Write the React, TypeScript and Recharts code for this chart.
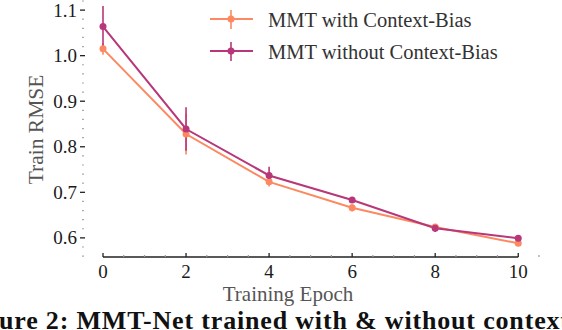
import {
  LineChart,
  Line,
  XAxis,
  YAxis,
  ErrorBar,
  Legend,
  ReferenceLine,
} from "recharts";

const epochs = [0, 2, 4, 6, 8, 10];
const withBias = [1.015, 0.828, 0.723, 0.666, 0.624, 0.588];
const withBiasErr = [0.013, 0.045, 0.01, 0.008, 0.006, 0.004];
const withoutBias = [1.064, 0.839, 0.737, 0.683, 0.621, 0.599];
const withoutBiasErr = [0.045, 0.048, 0.019, 0.004, 0.008, 0.004];

const xMajor = [0, 2, 4, 6, 8, 10];
const xTicks = [
  0, 0.5, 1, 1.5, 2, 2.5, 3, 3.5, 4, 4.5, 5, 5.5, 6, 6.5, 7, 7.5, 8, 8.5, 9,
  9.5, 10, 10.5,
];
const yMajor = [0.6, 0.7, 0.8, 0.9, 1.0, 1.1];
const yTicks = [
  0.56, 0.58, 0.6, 0.62, 0.64, 0.66, 0.68, 0.7, 0.72, 0.74, 0.76, 0.78, 0.8,
  0.82, 0.84, 0.86, 0.88, 0.9, 0.92, 0.94, 0.96, 0.98, 1.0, 1.02, 1.04, 1.06,
  1.08, 1.1, 1.12,
];

const ORANGE = "#fc8961";
const PURPLE = "#b73779";
const FONT = '"Liberation Serif", serif';

const data = epochs.map((epoch, i) => ({
  epoch,
  withBias: withBias[i],
  withBiasErr: withBiasErr[i],
  withoutBias: withoutBias[i],
  withoutBiasErr: withoutBiasErr[i],
}));

function XTick(props: any) {
  const { x, y, payload } = props;
  const v = payload.value;
  if (xMajor.includes(v)) {
    return (
      <g>
        <line x1={x} x2={x} y1={y} y2={y - 4} stroke="#222" strokeWidth={1.3} />
        <text
          x={x}
          y={y + 21}
          textAnchor="middle"
          fontFamily={FONT}
          fontSize={19}
          fill="#1a1a1a"
        >
          {v}
        </text>
      </g>
    );
  }
  return <line x1={x} x2={x} y1={y} y2={y - 2} stroke="#999" strokeWidth={1.2} />;
}

function YTick(props: any) {
  const { y, payload } = props;
  const v = payload.value;
  const major = yMajor.some((m) => Math.abs(m - v) < 1e-9);
  if (!major) {
    return <line x1={82} x2={84} y1={y} y2={y} stroke="#aaa" strokeWidth={1.2} />;
  }
  return (
    <g>
      <line x1={80} x2={85} y1={y} y2={y} stroke="#222" strokeWidth={1.3} />
      <text
        x={77}
        y={y + 6.5}
        textAnchor="end"
        fontFamily={FONT}
        fontSize={19}
        fill="#1a1a1a"
      >
        {v.toFixed(1)}
      </text>
    </g>
  );
}

function LegendBox(props: any) {
  const items = props.payload || [];
  return (
    <svg width={340} height={70} style={{ display: "block" }}>
      {items.map((it: any, i: number) => {
        const cy = 19 + i * 32;
        return (
          <g key={it.value}>
            <line x1={5} x2={48} y1={cy} y2={cy} stroke={it.color} strokeWidth={2} />
            <line x1={26} x2={26} y1={cy - 9} y2={cy + 10} stroke={it.color} strokeWidth={1.6} />
            <circle cx={26} cy={cy} r={3.5} fill={it.color} />
            <text x={63} y={cy + 8} fontFamily={FONT} fontSize={20.5} fill="#333">
              {it.value}
            </text>
          </g>
        );
      })}
    </svg>
  );
}

export default function App() {
  return (
    <div
      style={{
        position: "absolute",
        left: 0,
        top: 0,
        width: 562,
        height: 330,
        overflow: "hidden",
        background: "#fff",
      }}
    >
      <LineChart
        width={562}
        height={330}
        data={data}
        margin={{ top: 1, right: 23, bottom: 43, left: 0 }}
      >
        <XAxis
          dataKey="epoch"
          type="number"
          domain={[0, 10.5]}
          ticks={xTicks}
          interval={0}
          tick={<XTick />}
          tickLine={false}
          axisLine={false}
          tickSize={0}
          tickMargin={0}
          height={30}
        />
        <YAxis
          type="number"
          domain={[0.558, 1.12]}
          allowDataOverflow
          ticks={yTicks}
          interval={0}
          tick={<YTick />}
          tickLine={false}
          axisLine={false}
          tickSize={0}
          tickMargin={0}
          width={103}
        />
        <ReferenceLine
          segment={[
            { x: 0, y: 0.558 },
            { x: 10, y: 0.558 },
          ]}
          stroke="#222"
          strokeWidth={1.3}
          ifOverflow="visible"
        />
        <Legend
          layout="vertical"
          align="center"
          verticalAlign="middle"
          wrapperStyle={{ top: 0, left: 205, width: 340, height: 70 }}
          content={<LegendBox />}
        />
        <Line
          dataKey="withBias"
          name="MMT with Context-Bias"
          stroke={ORANGE}
          strokeWidth={2}
          dot={{ r: 3.5, fill: ORANGE, stroke: "none" }}
          activeDot={false}
          isAnimationActive={false}
        >
          <ErrorBar
            dataKey="withBiasErr"
            width={0}
            stroke={ORANGE}
            strokeWidth={1.6}
            direction="y"
            isAnimationActive={false}
          />
        </Line>
        <Line
          dataKey="withoutBias"
          name="MMT without Context-Bias"
          stroke={PURPLE}
          strokeWidth={2}
          dot={{ r: 3.5, fill: PURPLE, stroke: "none" }}
          activeDot={false}
          isAnimationActive={false}
        >
          <ErrorBar
            dataKey="withoutBiasErr"
            width={0}
            stroke={PURPLE}
            strokeWidth={1.6}
            direction="y"
            isAnimationActive={false}
          />
        </Line>
      </LineChart>
      <svg
        width={562}
        height={330}
        style={{ position: "absolute", left: 0, top: 0, pointerEvents: "none" }}
      >
        <text
          transform="translate(43,129.5) rotate(-90)"
          textAnchor="middle"
          fontFamily={FONT}
          fontSize={21.5}
          fill="#555"
        >
          Train RMSE
        </text>
        <text
          x={288}
          y={301}
          textAnchor="middle"
          fontFamily={FONT}
          fontSize={21}
          fill="#555"
        >
          Training Epoch
        </text>
        <text
          x={-1}
          y={329}
          fontFamily={FONT}
          fontSize={26}
          fontWeight="bold"
          fill="#111"
          textLength={570}
          lengthAdjust="spacing"
        >
          ure 2: MMT-Net trained with &amp; without context
        </text>
      </svg>
    </div>
  );
}
